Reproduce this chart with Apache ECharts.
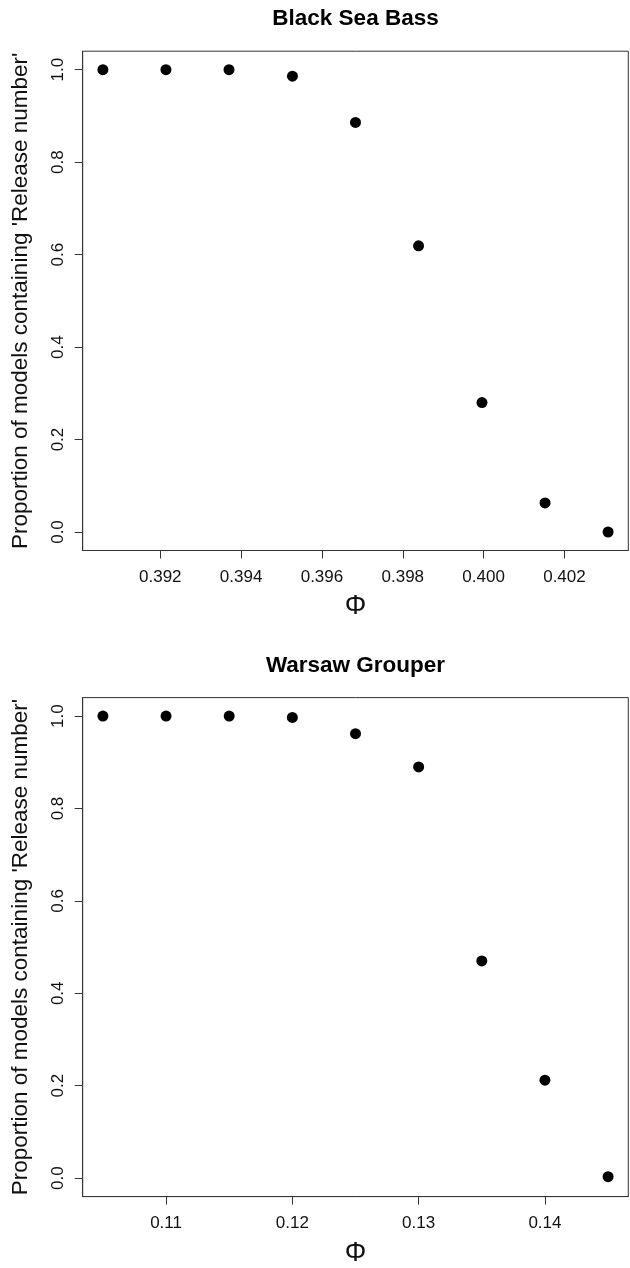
<!DOCTYPE html>
<html>
<head>
<meta charset="utf-8">
<script src="https://cdn.jsdelivr.net/npm/echarts@6/dist/echarts.min.js"></script>
<style>html,body{margin:0;padding:0;background:#fff}#c{width:630px;height:1268px}</style>
</head>
<body>
<div id="c"></div>
<script>
// Black Sea Bass
var bsbPhi = [0.39058, 0.39214, 0.39370, 0.39527, 0.39683, 0.39839, 0.39996, 0.40152, 0.40308];
var bsbProp = [1.0, 1.0, 1.0, 0.986, 0.886, 0.619, 0.280, 0.063, 0.0];
var bsbXTicks = [0.392, 0.394, 0.396, 0.398, 0.400, 0.402];
// Warsaw Grouper
var wgPhi = [0.105, 0.110, 0.115, 0.120, 0.125, 0.130, 0.135, 0.140, 0.145];
var wgProp = [1.0, 1.0, 1.0, 0.997, 0.962, 0.890, 0.470, 0.212, 0.003];
var wgXTicks = [0.11, 0.12, 0.13, 0.14];
var yTicks = [0.0, 0.2, 0.4, 0.6, 0.8, 1.0];
var titles = ['Black Sea Bass', 'Warsaw Grouper'];
var yName = "Proportion of models containing 'Release number'";
var xName = '\u03A6';

function ext(arr) {
  var mn = Math.min.apply(null, arr), mx = Math.max.apply(null, arr);
  var d = (mx - mn) * 0.04;
  return [mn - d, mx + d];
}

var FONT = 'Liberation Sans, Arial, sans-serif';
var TXT = '#111';
var LINE = '#333';

function xAxisDef(idx, data, ticks, dec) {
  var e = ext(data);
  return {
    type: 'value', gridIndex: idx, min: e[0], max: e[1], position: 'bottom',
    axisLine: {show: true, onZero: false, lineStyle: {color: LINE, width: 1}},
    axisTick: {show: true, inside: false, length: 8, lineStyle: {color: LINE, width: 1}, customValues: ticks},
    axisLabel: {customValues: ticks, color: TXT, fontFamily: FONT, fontSize: 17, margin: 18,
      formatter: function (v) { return v.toFixed(dec); }},
    splitLine: {show: false},
    name: xName, nameLocation: 'middle', nameGap: 43,
    nameTextStyle: {fontFamily: FONT, fontSize: 27, color: TXT}
  };
}
function yAxisDef(idx) {
  return {
    type: 'value', gridIndex: idx, min: -0.04, max: 1.04, position: 'left',
    axisLine: {show: true, onZero: false, lineStyle: {color: LINE, width: 1}},
    axisTick: {show: true, inside: false, length: 8, lineStyle: {color: LINE, width: 1}, customValues: yTicks},
    axisLabel: {customValues: yTicks, rotate: 90, color: TXT, fontFamily: FONT, fontSize: 17, margin: 16,
      formatter: function (v) { return v.toFixed(1); }},
    splitLine: {show: false},
    name: yName, nameLocation: 'middle', nameRotate: 90, nameGap: 50,
    nameTextStyle: {fontFamily: FONT, fontSize: 22.5, color: TXT}
  };
}

var chart = echarts.init(document.getElementById('c'), null, {renderer: 'canvas'});
chart.setOption({
  animation: false,
  backgroundColor: '#fff',
  graphic: [
    {type: 'text', style: {text: titles[0], x: 355.5, y: 19, textAlign: 'center', textVerticalAlign: 'middle', font: 'bold 22.5px ' + FONT, fill: '#000'}},
    {type: 'text', style: {text: titles[1], x: 355.5, y: 666, textAlign: 'center', textVerticalAlign: 'middle', font: 'bold 22.5px ' + FONT, fill: '#000'}}
  ],
  grid: [
    {left: 82.7, top: 51.2, width: 545.6, height: 499.3, show: true, borderColor: LINE, borderWidth: 1, containLabel: false},
    {left: 82.7, top: 697.6, width: 545.6, height: 499.0, show: true, borderColor: LINE, borderWidth: 1, containLabel: false}
  ],
  xAxis: [xAxisDef(0, bsbPhi, bsbXTicks, 3), xAxisDef(1, wgPhi, wgXTicks, 2)],
  yAxis: [yAxisDef(0), yAxisDef(1)],
  series: [
    {type: 'scatter', xAxisIndex: 0, yAxisIndex: 0, symbol: 'circle', symbolSize: 11,
      itemStyle: {color: '#000', opacity: 1}, data: bsbPhi.map(function (x, i) { return [x, bsbProp[i]]; })},
    {type: 'scatter', xAxisIndex: 1, yAxisIndex: 1, symbol: 'circle', symbolSize: 11,
      itemStyle: {color: '#000', opacity: 1}, data: wgPhi.map(function (x, i) { return [x, wgProp[i]]; })}
  ]
});
</script>
</body>
</html>
